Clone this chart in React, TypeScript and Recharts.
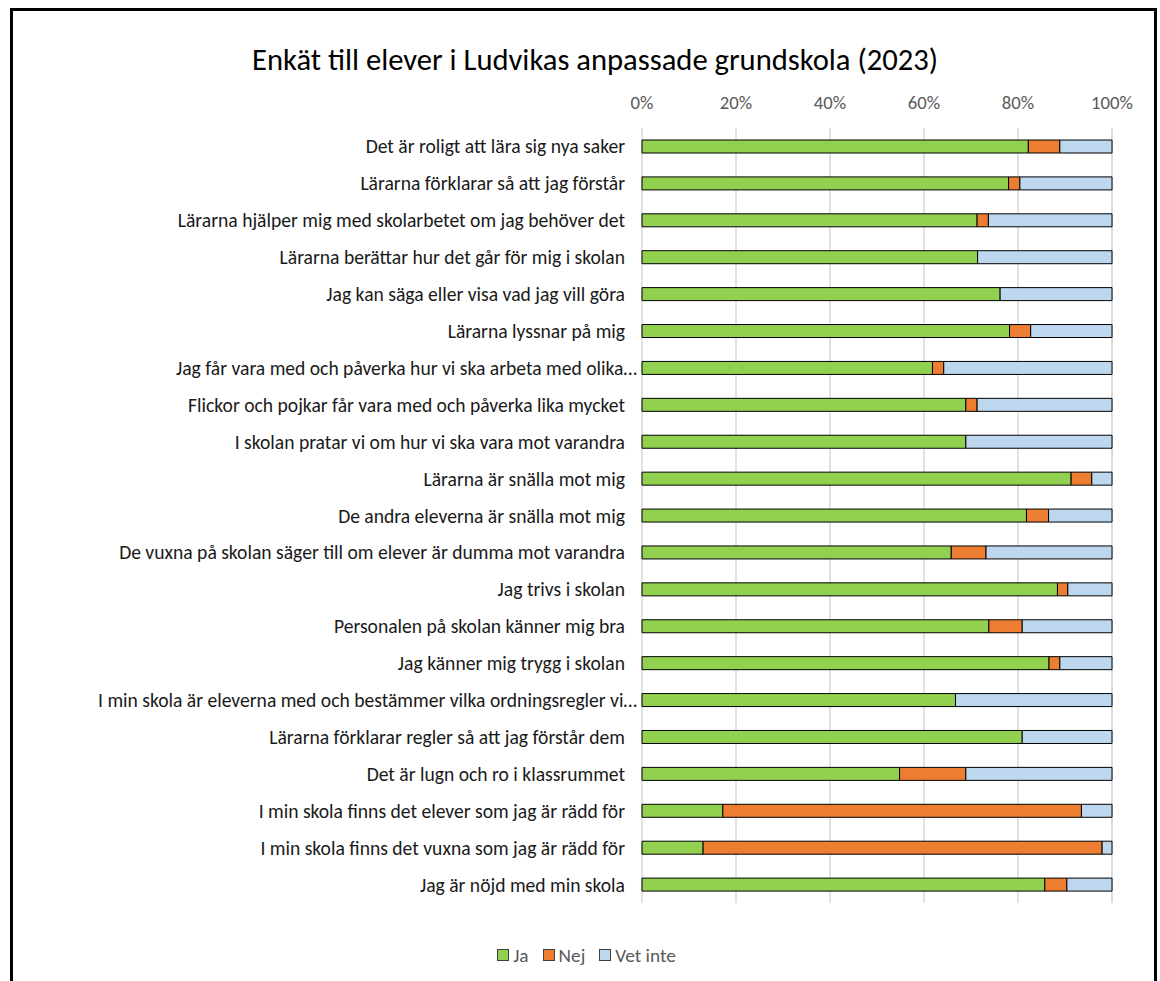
import React from "react";
import { BarChart, Bar, XAxis, YAxis, CartesianGrid } from "recharts";

const categories = [
  "Det är roligt att lära sig nya saker",
  "Lärarna förklarar så att jag förstår",
  "Lärarna hjälper mig med skolarbetet om jag behöver det",
  "Lärarna berättar hur det går för mig i skolan",
  "Jag kan säga eller visa vad jag vill göra",
  "Lärarna lyssnar på mig",
  "Jag får vara med och påverka hur vi ska arbeta med olika…",
  "Flickor och pojkar får vara med och påverka lika mycket",
  "I skolan pratar vi om hur vi ska vara mot varandra",
  "Lärarna är snälla mot mig",
  "De andra eleverna är snälla mot mig",
  "De vuxna på skolan säger till om elever är dumma mot varandra",
  "Jag trivs i skolan",
  "Personalen på skolan känner mig bra",
  "Jag känner mig trygg i skolan",
  "I min skola är eleverna med och bestämmer vilka ordningsregler vi…",
  "Lärarna förklarar regler så att jag förstår dem",
  "Det är lugn och ro i klassrummet",
  "I min skola finns det elever som jag är rädd för",
  "I min skola finns det vuxna som jag är rädd för",
  "Jag är nöjd med min skola",
];

const ja = [82.2, 78.0, 71.3, 71.4, 76.2, 78.2, 61.8, 68.9, 68.9, 91.3, 81.8, 65.8, 88.4, 73.8, 86.6, 66.7, 80.9, 54.8, 17.2, 13.0, 85.7];
const nej = [6.7, 2.4, 2.4, 0, 0, 4.5, 2.4, 2.4, 0, 4.4, 4.7, 7.4, 2.2, 7.1, 2.3, 0, 0, 14.1, 76.3, 84.9, 4.7];
const vetInte = [11.1, 19.6, 26.3, 28.6, 23.8, 17.3, 35.8, 28.7, 31.1, 4.3, 13.5, 26.8, 9.4, 19.1, 11.1, 33.3, 19.1, 31.1, 6.5, 2.1, 9.6];

const xTicks = [0, 20, 40, 60, 80, 100];

const seriesNames = ["Ja", "Nej", "Vet inte"];
const seriesColors = ["#92D050", "#ED7D31", "#BDD7EE"];

const data = categories.map((name, i) => ({
  name,
  ja: ja[i],
  nej: nej[i],
  vet: vetInte[i],
}));

const FONT = "Carlito, 'Open Sans', sans-serif";

// truncated labels (Excel style) sit a little closer to the bars
const YTick = ({ x, y, payload }: any) => {
  const cut = String(payload.value).endsWith("…");
  return (
    <text x={x + (cut ? 12 : 0)} y={y} textAnchor="end" dominantBaseline="central" fontSize={19.6} fill="#1a1a1a" fontFamily={FONT}>
      {payload.value}
    </text>
  );
};

const XTick = ({ x, y, payload }: any) => (
  <text x={x} y={y} textAnchor="middle" dominantBaseline="central" fontSize={18.7} fill="#595959" fontFamily={FONT}>
    {payload.value}%
  </text>
);

export default function App() {
  return (
    <div style={{ position: "relative", width: 1160, height: 981, fontFamily: FONT }}>
      <style>{`body{margin:0;overflow:hidden}`}</style>
      <div
        style={{
          position: "absolute",
          left: 10,
          top: 8,
          width: 1141,
          height: 990,
          borderTop: "3px solid #000",
          borderLeft: "3px solid #000",
          borderRight: "3px solid #000",
        }}
      />
      <div
        style={{
          position: "absolute",
          left: 0,
          top: 41,
          width: 1190,
          textAlign: "center",
          fontSize: 30.6,
          lineHeight: "38px",
          color: "#000",
        }}
      >
        Enkät till elever i Ludvikas anpassade grundskola (2023)
      </div>
      <div style={{ position: "absolute", left: 0, top: 0 }}>
        <BarChart
          width={1160}
          height={981}
          data={data}
          layout="vertical"
          barSize={13}
          margin={{ top: 98, right: 48, bottom: 78, left: 0 }}
        >
          <CartesianGrid horizontal={false} stroke="#d9d9d9" strokeWidth={1.5} />
          <XAxis
            type="number"
            orientation="top"
            domain={[0, 100]}
            ticks={xTicks}
            height={30}
            axisLine={false}
            tickLine={false}
            tickSize={0}
            tickMargin={26}
            tick={<XTick />}
            interval={0}
          />
          <YAxis
            type="category"
            dataKey="name"
            width={642}
            axisLine={false}
            tickLine={false}
            tickSize={0}
            tickMargin={17}
            tick={<YTick />}
            interval={0}
          />
          <Bar dataKey="ja" name={seriesNames[0]} stackId="a" fill={seriesColors[0]} stroke="#000" strokeWidth={1} isAnimationActive={false} />
          <Bar dataKey="nej" name={seriesNames[1]} stackId="a" fill={seriesColors[1]} stroke="#000" strokeWidth={1} isAnimationActive={false} />
          <Bar dataKey="vet" name={seriesNames[2]} stackId="a" fill={seriesColors[2]} stroke="#000" strokeWidth={1} isAnimationActive={false} />
        </BarChart>
      </div>
      <div
        style={{
          position: "absolute",
          left: 0,
          top: 943,
          width: 1173,
          height: 24,
          display: "flex",
          justifyContent: "center",
          alignItems: "center",
          gap: 14,
          fontSize: 19.3,
          color: "#595959",
        }}
      >
        {seriesNames.map((n, i) => (
          <div key={n} style={{ display: "flex", alignItems: "center" }}>
            <span
              style={{
                display: "inline-block",
                width: 10,
                height: 10,
                background: seriesColors[i],
                border: "1.5px solid #404040",
                marginRight: 4,
              }}
            />
            <span>{n}</span>
          </div>
        ))}
      </div>
    </div>
  );
}
